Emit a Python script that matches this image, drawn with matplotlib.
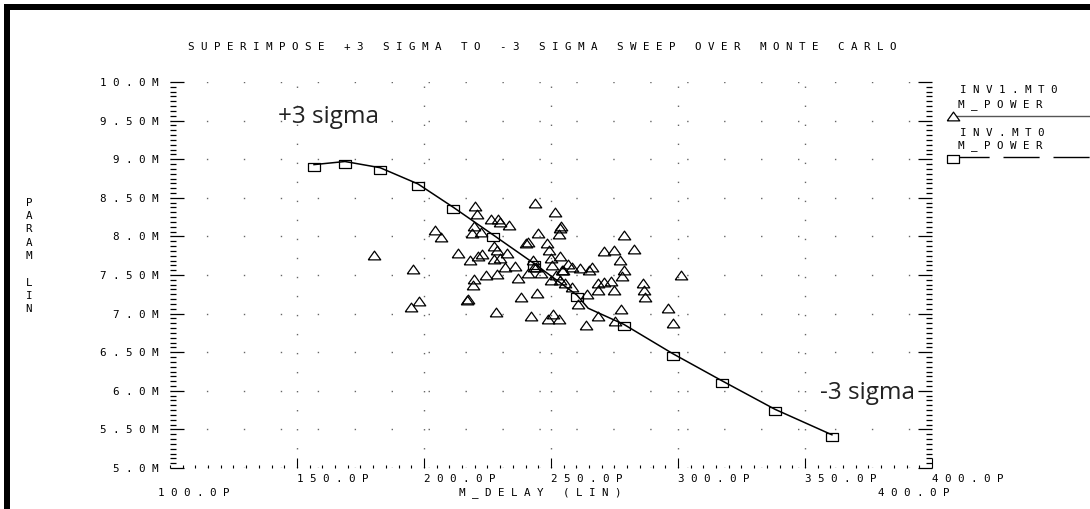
import matplotlib
matplotlib.use("Agg")
import matplotlib.pyplot as plt
import matplotlib.transforms as mtransforms
from matplotlib.lines import Line2D
from matplotlib.patches import Rectangle
from matplotlib.ticker import MultipleLocator

# INV.MT0 sweep (-3 sigma .. +3 sigma), delay in ps, power in mW
sweep_delay = [156.7, 168.9, 182.7, 197.6, 211.4, 227.2, 243.3, 260.2, 264.6,
               278.7, 298.0, 317.3, 338.2, 360.6]
sweep_power = [8.93, 8.97, 8.89, 8.68, 8.38, 8.02, 7.65, 7.24, 7.07,
               6.86, 6.48, 6.13, 5.76, 5.43]
sweep_marked = [0, 1, 2, 3, 4, 5, 6, 7, 9, 10, 11, 12, 13]

# INV1.MT0 monte carlo samples
mc_delay = [220.2, 220.9, 243.7, 251.6, 226.4, 229.3, 230.1, 233.5, 219.6, 204.5,
            206.7, 218.8, 222.4, 245.0, 253.9, 253.5, 253.0, 278.9, 240.2, 241.1,
            248.3, 227.7, 228.6, 232.7, 213.5, 221.1, 222.8, 227.4, 229.8, 218.0,
            249.4, 250.0, 253.7, 270.7, 274.9, 282.8, 277.2, 242.8, 244.1, 231.9,
            235.8, 240.8, 250.3, 256.6, 258.1, 261.5, 266.1, 265.1, 254.3, 252.0,
            246.1, 195.5, 224.4, 228.6, 219.8, 237.0, 250.0, 253.7, 255.5, 258.1,
            219.2, 278.9, 277.8, 301.2, 268.4, 270.7, 273.6, 268.4, 274.9, 286.4,
            286.7, 287.0, 238.2, 244.5, 217.2, 216.8, 197.9, 194.9, 228.3, 242.1,
            250.7, 248.7, 253.0, 260.5, 264.2, 268.6, 263.8, 277.6, 275.2, 296.2,
            297.9, 243.4, 254.6, 180.3]
mc_power = [8.39, 8.29, 8.43, 8.31, 8.22, 8.23, 8.19, 8.15, 8.14, 8.08,
            7.99, 8.05, 8.06, 8.04, 8.13, 8.11, 8.03, 8.02, 7.92, 7.93,
            7.91, 7.88, 7.82, 7.79, 7.79, 7.75, 7.77, 7.71, 7.72, 7.69,
            7.82, 7.72, 7.75, 7.81, 7.82, 7.84, 7.69, 7.70, 7.60, 7.60,
            7.62, 7.52, 7.63, 7.64, 7.60, 7.59, 7.61, 7.56, 7.57, 7.50,
            7.52, 7.58, 7.50, 7.51, 7.45, 7.46, 7.44, 7.44, 7.39, 7.34,
            7.37, 7.57, 7.49, 7.50, 7.40, 7.41, 7.42, 7.31, 7.31, 7.39,
            7.31, 7.22, 7.22, 7.27, 7.19, 7.18, 7.16, 7.09, 7.02, 6.97,
            7.00, 6.93, 6.93, 7.12, 7.25, 6.97, 6.85, 7.06, 6.90, 7.07,
            6.88, 7.61, 7.57, 7.76]

x_ticks = [150, 200, 250, 300, 350, 400]
x_tick_labels = ["150.0P", "200.0P", "250.0P", "300.0P", "350.0P", "400.0P"]
y_ticks = [5.0, 5.5, 6.0, 6.5, 7.0, 7.5, 8.0, 8.5, 9.0, 9.5, 10.0]
y_tick_labels = ["5.0M", "5.50M", "6.0M", "6.50M", "7.0M", "7.50M",
                 "8.0M", "8.50M", "9.0M", "9.50M", "10.0M"]

title = "SUPERIMPOSE +3 SIGMA TO -3 SIGMA SWEEP OVER MONTE CARLO"
MONO = "DejaVu Sans Mono"
FS = 7.8


def spaced(s):
    return " ".join(s)


W, H = 1090, 509
fig = plt.figure(figsize=(W / 100, H / 100), dpi=100)
fig.patch.set_facecolor("white")


def fx(px):
    return px / W


def fy(py):
    return 1 - py / H


ax = fig.add_axes([fx(170), fy(468), (932 - 170) / W, (468 - 82) / H])
ax.set_xlim(100, 400)
ax.set_ylim(5.0, 10.0)
for s in ax.spines.values():
    s.set_visible(False)

# markers like the plotter's: open triangle and flat box
tri = [(-1, -0.7), (1, -0.7), (0, 0.7), (-1, -0.7)]
box = [(-1, -0.9), (1, -0.9), (1, 0.3), (-1, 0.3), (-1, -0.9)]

ax.plot(mc_delay, mc_power, linestyle="none", marker=tri, markersize=9,
        markerfacecolor="none", markeredgecolor="black", markeredgewidth=0.9)
ax.plot(sweep_delay, sweep_power, color="black", linewidth=1.1,
        marker=box, markersize=9, markevery=sweep_marked,
        markerfacecolor="none", markeredgecolor="black", markeredgewidth=0.9)

# ticks
ax.set_xticks(x_ticks)
ax.set_xticklabels([spaced(t) for t in x_tick_labels], fontfamily=MONO,
                   fontsize=FS, ha="left")
off = mtransforms.ScaledTranslation(-14 / 100, 0, fig.dpi_scale_trans)
for lab in ax.get_xticklabels():
    lab.set_transform(lab.get_transform() + off)
ax.set_yticks(y_ticks)
ax.set_yticklabels([spaced(t) for t in y_tick_labels], fontfamily=MONO,
                   fontsize=FS)
ax.xaxis.set_minor_locator(MultipleLocator(5))
ax.yaxis.set_minor_locator(MultipleLocator(0.0625))
ax.tick_params(axis="y", which="both", direction="in", left=True, right=True,
               width=0.9, color="black", pad=8)
ax.tick_params(axis="y", which="major", length=10)
ax.tick_params(axis="y", which="minor", length=4.3)
ax.tick_params(axis="x", which="both", direction="in", bottom=True, top=False,
               width=0.8, color="black", pad=4)
ax.tick_params(axis="x", which="major", length=7)
ax.tick_params(axis="x", which="minor", length=2.5)

# dotted grid
ax.xaxis.grid(True, which="major", color="#666666", linewidth=1.0,
              linestyle=(0, (1, 12.7)))
ax.yaxis.grid(True, which="major", color="#666666", linewidth=1.0,
              linestyle=(27, (1, 25.6)))
ax.set_axisbelow(True)

# texts
fig.text(fx(542), fy(47), spaced(title), fontfamily=MONO, fontsize=FS,
         ha="center", va="center")
fig.text(fx(29), fy(256), "\n".join("PARAM LIN"), fontfamily=MONO,
         fontsize=FS, ha="center", va="center", linespacing=1.42)
fig.text(fx(540), fy(493), spaced("M_DELAY (LIN)"), fontfamily=MONO,
         fontsize=FS, ha="center", va="center")
fig.text(fx(158), fy(493), spaced("100.0P"), fontfamily=MONO, fontsize=FS,
         ha="left", va="center")
fig.text(fx(878), fy(493), spaced("400.0P"), fontfamily=MONO, fontsize=FS,
         ha="left", va="center")

fig.text(fx(278), fy(123), "+3 sigma", fontfamily="Open Sans", fontsize=17.5,
         color="#222222", ha="left", va="baseline")
fig.text(fx(820), fy(399), "-3 sigma", fontfamily="Open Sans", fontsize=17.5,
         color="#222222", ha="left", va="baseline")

# legend block on the right
fig.text(fx(960), fy(90), spaced("INV1.MT0"), fontfamily=MONO, fontsize=FS,
         ha="left", va="center")
fig.text(fx(958), fy(105), spaced("M_POWER"), fontfamily=MONO, fontsize=FS,
         ha="left", va="center")
fig.add_artist(Line2D([fx(953), fx(1090)], [fy(116), fy(116)], color="#555555",
                      linewidth=1.0))
fig.add_artist(Line2D([fx(953)], [fy(116)], marker=tri, markersize=9,
                      markerfacecolor="white", markeredgecolor="black",
                      markeredgewidth=0.9, linestyle="none"))
fig.text(fx(960), fy(133), spaced("INV.MT0"), fontfamily=MONO, fontsize=FS,
         ha="left", va="center")
fig.text(fx(958), fy(146), spaced("M_POWER"), fontfamily=MONO, fontsize=FS,
         ha="left", va="center")
fig.add_artist(Line2D([fx(953), fx(1090)], [fy(157), fy(157)], color="black",
                      linewidth=1.0, linestyle=(0, (26, 10))))
fig.add_artist(Line2D([fx(953)], [fy(157)], marker=box, markersize=9,
                      markerfacecolor="white", markeredgecolor="black",
                      markeredgewidth=0.9, linestyle="none"))

# heavy frame on top and left
fig.add_artist(Rectangle((fx(4), fy(10)), fx(W), 6 / H, transform=fig.transFigure,
                         facecolor="black", edgecolor="none"))
fig.add_artist(Rectangle((fx(4), 0), 6 / W, fy(4), transform=fig.transFigure,
                         facecolor="black", edgecolor="none"))

fig.savefig("out.png", dpi=100, facecolor="white")
plt.close(fig)
